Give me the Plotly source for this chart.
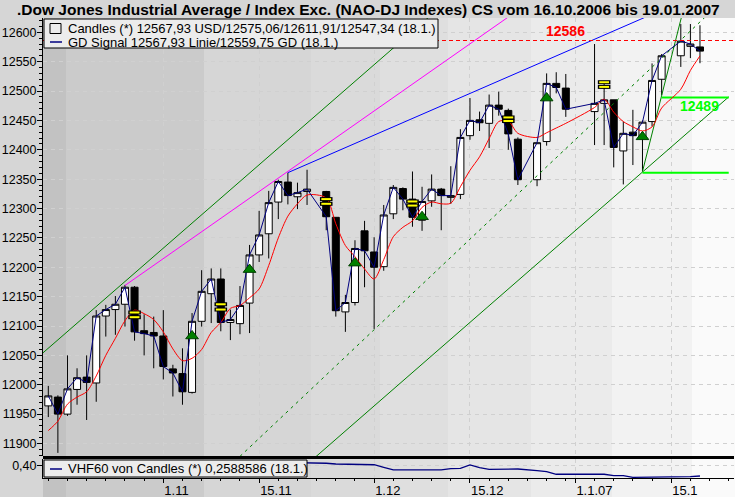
import numpy as np
import plotly.graph_objects as go

# ---------------- data ----------------
dates = ["2006-10-16", "2006-10-17", "2006-10-18", "2006-10-19", "2006-10-20",
         "2006-10-23", "2006-10-24", "2006-10-25", "2006-10-26", "2006-10-27",
         "2006-10-30", "2006-10-31", "2006-11-01", "2006-11-02", "2006-11-03",
         "2006-11-06", "2006-11-07", "2006-11-08", "2006-11-09", "2006-11-10",
         "2006-11-13", "2006-11-14", "2006-11-15", "2006-11-16", "2006-11-17",
         "2006-11-20", "2006-11-21", "2006-11-22", "2006-11-24",
         "2006-11-27", "2006-11-28", "2006-11-29", "2006-11-30", "2006-12-01",
         "2006-12-04", "2006-12-05", "2006-12-06", "2006-12-07", "2006-12-08",
         "2006-12-11", "2006-12-12", "2006-12-13", "2006-12-14", "2006-12-15",
         "2006-12-18", "2006-12-19", "2006-12-20", "2006-12-21", "2006-12-22",
         "2006-12-26", "2006-12-27", "2006-12-28", "2006-12-29",
         "2007-01-03", "2007-01-04", "2007-01-05",
         "2007-01-08", "2007-01-09", "2007-01-10", "2007-01-11", "2007-01-12",
         "2007-01-16", "2007-01-17", "2007-01-18"]

opens = [11964, 11979, 11950, 11992, 12013, 12003, 12117, 12128, 12137, 12166,
         12092, 12089, 12083, 12027, 12019, 11987, 12108, 12155, 12180, 12106,
         12104, 12139, 12221, 12257, 12311, 12345, 12320, 12329, 12329,
         12285, 12124, 12140, 12262, 12226,
         12201, 12291, 12334, 12316, 12280,
         12313, 12333, 12319, 12324, 12424,
         12451, 12445, 12476, 12467, 12418,
         12349, 12414, 12513, 12505,
         12465, 12479, 12485,
         12398, 12430, 12421, 12448, 12520,
         12560, 12576, 12575.06]

highs = [11998, 11982, 12050, 12028, 12050, 12127, 12136, 12151, 12170, 12168,
         12120, 12116, 12127, 12034, 12062, 12122, 12195, 12198, 12198, 12128,
         12168, 12238, 12296, 12330, 12349, 12361, 12344, 12366, 12330,
         12285, 12153, 12246, 12279, 12251,
         12306, 12340, 12336, 12363, 12337,
         12358, 12335, 12372, 12435, 12488,
         12465, 12494, 12499, 12470, 12421,
         12412, 12530, 12532, 12529,
         12580, 12512, 12485,
         12448, 12468, 12450, 12547, 12563,
         12614, 12614, 12611.91]

lows = [11945, 11884, 11947, 11966, 11940, 11971, 12082, 12085, 12099, 12075,
        12050, 12028, 12009, 11980, 11966, 11985, 12099, 12105, 12091, 12076,
        12086, 12088, 12209, 12215, 12282, 12307, 12299, 12306, 12263,
        12116, 12090, 12135, 12166, 12095,
        12194, 12282, 12297, 12269, 12262,
        12303, 12263, 12308, 12316, 12417,
        12432, 12403, 12458, 12400, 12340,
        12338, 12407, 12496, 12456,
        12408, 12408, 12370,
        12341, 12374, 12363, 12440, 12493,
        12541, 12556, 12547.34]

closes = [11981, 11950, 11993, 12012, 12004, 12117, 12128, 12137, 12166, 12090,
          12087, 12083, 12031, 12020, 11988, 12108, 12159, 12180, 12106, 12111,
          12135, 12221, 12255, 12310, 12346, 12322, 12327, 12333, 12286,
          12126, 12140, 12232, 12228, 12200,
          12289, 12336, 12316, 12285, 12312,
          12333, 12322, 12322, 12421, 12450,
          12446, 12476, 12469, 12427, 12349,
          12412, 12513, 12506, 12469,
          12479, 12485, 12404,
          12428, 12424, 12447, 12518, 12560,
          12585, 12580, 12567.93]

# red "GD" line (moving average)
gd_values = [11922, 11938, 11967, 11979, 11988, 12015, 12050, 12079, 12109, 12127,
             12121, 12111, 12090, 12061, 12041, 12045, 12060, 12089, 12106, 12130,
             12135, 12148, 12163, 12203, 12250, 12287, 12308, 12323, 12318,
             12274, 12237, 12218, 12197, 12180,
             12213, 12252, 12268, 12279, 12302,
             12311, 12308, 12309, 12337, 12365,
             12388, 12419, 12448, 12449, 12428,
             12421, 12429, 12437, 12445,
             12472, 12486, 12464,
             12448, 12439, 12432, 12439, 12471,
             12503, 12535, 12559.75]

buy_dates = ["2006-11-06", "2006-11-14", "2006-11-29", "2006-12-08", "2006-12-27", "2007-01-10"]
buy_values = [12083, 12196, 12207, 12286, 12488, 12422]

sell_dates = ["2006-10-27", "2006-11-09", "2006-11-24", "2006-12-07", "2006-12-21", "2007-01-04"]
sell_upper = [12123, 12137, 12316, 12312, 12455, 12515]
sell_lower = [12115, 12128, 12308, 12305, 12449, 12507]

vhf_dates = ["2006-11-16", "2006-11-17", "2006-11-20", "2006-11-21", "2006-11-22", "2006-11-24",
             "2006-11-27", "2006-11-28", "2006-11-29", "2006-11-30", "2006-12-01",
             "2006-12-04", "2006-12-05", "2006-12-06", "2006-12-07", "2006-12-08",
             "2006-12-11", "2006-12-12", "2006-12-13", "2006-12-14", "2006-12-15",
             "2006-12-18", "2006-12-19", "2006-12-20", "2006-12-21", "2006-12-22",
             "2006-12-26", "2006-12-27", "2006-12-28", "2006-12-29",
             "2007-01-03", "2007-01-04", "2007-01-05",
             "2007-01-08", "2007-01-09", "2007-01-10", "2007-01-11", "2007-01-12",
             "2007-01-16", "2007-01-17", "2007-01-18"]
vhf_values = [0.445, 0.443, 0.443, 0.443, 0.443, 0.430,
              0.420, 0.420, 0.416, 0.416, 0.410,
              0.375, 0.340, 0.340, 0.340, 0.340,
              0.340, 0.340, 0.358, 0.362, 0.407,
              0.372, 0.349, 0.353, 0.353, 0.353,
              0.330, 0.317, 0.282, 0.282,
              0.282, 0.282, 0.263,
              0.263, 0.241, 0.241, 0.241, 0.241,
              0.241, 0.250, 0.2588586]

# trend lines (date, value) endpoints
upper_channel_dates = ["2006-10-13", "2006-12-11"]
upper_channel_values = [12048, 12630]
lower_channel_dates = ["2006-11-20", "2007-01-23"]
lower_channel_values = [11836, 12490]
magenta_dates = ["2006-10-26", "2006-12-21"]
magenta_values = [12169, 12626]
blue_trend_dates = ["2006-11-20", "2007-01-16"]
blue_trend_values = [12361, 12652]
steep_dates = ["2007-01-10", "2007-01-17"]
steep_values = [12363, 12686]
dashed_dates = ["2006-11-13", "2007-01-19"]
dashed_values = [11878, 12633]
level_high_dates = ["2007-01-12", "2007-01-23"]
level_high_value = 12489
level_low_dates = ["2007-01-10", "2007-01-23"]
level_low_value = 12361
resistance_value = 12586

tick_dates = ["2006-11-01", "2006-11-15", "2006-12-01", "2006-12-15", "2007-01-01", "2007-01-15"]
tick_labels = ["1.11", "15.11", "1.12", "15.12", "1.1.07", "15.1"]

title_text = ".Dow Jones Industrial Average / Index Exc. (NAO-DJ Indexes) CS vom 16.10.2006 bis 19.01.2007"
legend_candles = "Candles (*) 12567,93 USD/12575,06/12611,91/12547,34 (18.1.)"
legend_signal = "GD Signal 12567,93 Linie/12559,75 GD (18.1.)"
legend_vhf = "VHF60 von Candles (*) 0,2588586 (18.1.)"

# ---------------- helpers ----------------
START = "2006-10-16"


def bidx(ds):
    """weekday position on the time axis (weekends removed)"""
    return np.busday_count(START, np.array(ds, dtype="datetime64[D]")).tolist()


W, H = 735, 497
ML, MR, MT, MB = 43, 1, 18, 19
PW, PH = W - ML - MR, H - MT - MB


def px(x):
    return (x - ML) / PW


def py(y):
    return (H - MB - y) / PH


FONT = "Liberation Sans, Arial, sans-serif"
x = bidx(dates)
tickvals = bidx(tick_dates)
minor_vals = []
allmaj = [-2] + tickvals + [73]
for a, b in zip(allmaj[:-1], allmaj[1:]):
    v = a + 2
    while v < b:
        if v >= 0:
            minor_vals.append(v)
        v += 2

fig = go.Figure()

fig.add_trace(go.Candlestick(
    x=x, open=opens, high=highs, low=lows, close=closes,
    xaxis="x", yaxis="y", whiskerwidth=0,
    increasing=dict(fillcolor="white", line=dict(color="black", width=1)),
    decreasing=dict(fillcolor="black", line=dict(color="black", width=1)),
    hoverinfo="skip", showlegend=False))


def line(ds, vs, color, dash="solid", width=1):
    fig.add_trace(go.Scatter(x=bidx(ds), y=vs, mode="lines", xaxis="x", yaxis="y",
                             line=dict(color=color, width=width, dash=dash),
                             hoverinfo="skip", showlegend=False))


line(upper_channel_dates, upper_channel_values, "#008000")
line(lower_channel_dates, lower_channel_values, "#008000")
line(magenta_dates, magenta_values, "#ff00ff")
line(blue_trend_dates, blue_trend_values, "#0000ff")
line(steep_dates, steep_values, "#008000")
line(dashed_dates, dashed_values, "#008000", dash="3px,4px")
line(level_high_dates, [level_high_value] * 2, "#00ff00", width=2)
line(level_low_dates, [level_low_value] * 2, "#00ff00", width=2)

fig.add_trace(go.Scatter(x=x, y=gd_values, mode="lines", xaxis="x", yaxis="y",
                         line=dict(color="#ff0000", width=1, shape="spline", smoothing=0.8),
                         hoverinfo="skip", showlegend=False))
fig.add_trace(go.Scatter(x=x, y=closes, mode="lines", xaxis="x", yaxis="y",
                         line=dict(color="#000080", width=1),
                         hoverinfo="skip", showlegend=False))

fig.add_trace(go.Scatter(x=bidx(buy_dates), y=buy_values, mode="markers", xaxis="x", yaxis="y",
                         marker=dict(symbol="triangle-up", size=11, color="#008000",
                                     line=dict(color="#004000", width=1)),
                         hoverinfo="skip", showlegend=False))
sx = bidx(sell_dates) * 2
sy = sell_upper + sell_lower
fig.add_trace(go.Scatter(x=sx, y=sy, mode="markers", xaxis="x", yaxis="y",
                         marker=dict(symbol="line-ew", size=9, color="black",
                                     line=dict(color="black", width=4)),
                         hoverinfo="skip", showlegend=False))
fig.add_trace(go.Scatter(x=sx, y=sy, mode="markers", xaxis="x", yaxis="y",
                         marker=dict(symbol="line-ew", size=7, color="#ffff00",
                                     line=dict(color="#ffff00", width=2)),
                         hoverinfo="skip", showlegend=False))

fig.add_trace(go.Scatter(x=bidx(vhf_dates), y=vhf_values, mode="lines", xaxis="x2", yaxis="y2",
                         line=dict(color="#000080", width=1.3),
                         hoverinfo="skip", showlegend=False))

# ---------------- layout ----------------
bands = [(43, 66, "#c2c2c2"), (66, 204, "#cbcbcb"), (204, 311, "#d6d6d6"),
         (311, 380, "#dadada"), (380, 448, "#dfdfdf"), (448, 531, "#e5e5e5"),
         (531, 612, "#ebebeb"), (612, 692, "#f2f2f2"), (692, 735, "#fafafa")]
shapes = []
for x0, x1, c in bands:
    shapes.append(dict(type="rect", xref="paper", yref="paper", x0=px(x0), x1=px(x1),
                       y0=py(H), y1=1, fillcolor=c, line=dict(width=0), layer="below"))

shapes.append(dict(type="line", xref="paper", yref="y", x0=0, x1=1,
                   y0=resistance_value, y1=resistance_value,
                   line=dict(color="#ff0000", width=1, dash="4px,3px"), layer="above"))
# panel separator
shapes.append(dict(type="line", xref="paper", yref="paper", x0=0, x1=1,
                   y0=py(457.5), y1=py(457.5), line=dict(color="black", width=3), layer="above"))
# legend boxes
shapes.append(dict(type="rect", xref="paper", yref="paper", x0=px(44), x1=px(438),
                   y0=py(48), y1=py(19), fillcolor="#ececec",
                   line=dict(color="black", width=1), layer="above"))
shapes.append(dict(type="rect", xref="paper", yref="paper", x0=px(50), x1=px(61),
                   y0=py(33.5), y1=py(23.5), fillcolor="#ececec",
                   line=dict(color="black", width=1), layer="above"))
shapes.append(dict(type="line", xref="paper", yref="paper", x0=px(50), x1=px(62),
                   y0=py(42), y1=py(42), line=dict(color="#000080", width=1.5), layer="above"))
shapes.append(dict(type="rect", xref="paper", yref="paper", x0=px(44), x1=px(307),
                   y0=py(477), y1=py(460), fillcolor="#ececec",
                   line=dict(color="black", width=1), layer="above"))
shapes.append(dict(type="line", xref="paper", yref="paper", x0=px(50), x1=px(62),
                   y0=py(469), y1=py(469), line=dict(color="#000080", width=1.5), layer="above"))

annotations = [
    dict(text=title_text, xref="paper", yref="paper", x=px(15), y=py(9.5),
         xanchor="left", yanchor="middle", showarrow=False,
         font=dict(family=FONT, size=15.5, color="black", weight="bold")),
    dict(text=legend_candles, xref="paper", yref="paper", x=px(66), y=py(28.5),
         xanchor="left", yanchor="middle", showarrow=False, font=dict(family=FONT, size=13)),
    dict(text=legend_signal, xref="paper", yref="paper", x=px(66), y=py(42.5),
         xanchor="left", yanchor="middle", showarrow=False, font=dict(family=FONT, size=13)),
    dict(text=legend_vhf, xref="paper", yref="paper", x=px(66), y=py(468.5),
         xanchor="left", yanchor="middle", showarrow=False, font=dict(family=FONT, size=13)),
    dict(text=str(resistance_value), xref="x", yref="y", x=bidx(["2007-01-02"])[0] - 2, y=12603,
         xanchor="center", yanchor="middle", showarrow=False,
         font=dict(family=FONT, size=14, color="#ff0000", weight="bold")),
    dict(text=str(level_high_value), xref="x", yref="y", x=bidx(["2007-01-18"])[0], y=12474,
         xanchor="center", yanchor="middle", showarrow=False,
         font=dict(family=FONT, size=14, color="#00ff00", weight="bold")),
]

GRID = "#d0d0d0"
xr = [-0.553, 71.55]
fig.update_layout(
    width=W, height=H,
    margin=dict(l=ML, r=MR, t=MT, b=MB, pad=0),
    paper_bgcolor="#d6d6d6", plot_bgcolor="rgba(0,0,0,0)",
    font=dict(family=FONT, size=13, color="black"),
    showlegend=False, hovermode=False,
    boxgap=0.27, boxgroupgap=0,
    shapes=shapes, annotations=annotations,
    xaxis=dict(domain=[0, 1], anchor="y", range=xr, tickvals=tickvals, showticklabels=False,
               ticks="", showgrid=True, gridcolor=GRID, griddash="4px,4px", gridwidth=1,
               zeroline=False, showline=False, automargin=False,
               rangeslider=dict(visible=False)),
    yaxis=dict(domain=[py(456), 1], anchor="x", range=[11878.7, 12624.3], dtick=50, tick0=0,
               tickformat="d", ticks="outside", ticklen=5, tickcolor="black",
               tickfont=dict(size=12.5), ticklabelstandoff=-2,
               showline=True, linecolor="black", linewidth=1, automargin=False,
               showgrid=True, gridcolor=GRID, griddash="4px,4px", zeroline=False,
               minor=dict(dtick=10, tick0=0, ticks="outside", ticklen=3, tickcolor="black",
                          showgrid=False)),
    xaxis2=dict(domain=[0, 1], anchor="y2", range=xr, matches="x", tickvals=tickvals,
                ticktext=tick_labels, ticks="outside", ticklen=4, tickcolor="black",
                ticklabelposition="outside right", automargin=False,
                showline=True, linecolor="black", linewidth=1,
                showgrid=True, gridcolor=GRID, griddash="4px,4px", zeroline=False,
                minor=dict(tickvals=minor_vals, ticks="outside", ticklen=2, tickcolor="black",
                           showgrid=False)),
    yaxis2=dict(domain=[0, py(459)], anchor="x2", range=[0.232, 0.487], tickvals=[0.4],
                ticktext=["0,40"], ticks="outside", ticklen=5, tickcolor="black",
                tickfont=dict(size=12.5), ticklabelstandoff=-2,
                showline=True, linecolor="black", linewidth=1, automargin=False,
                showgrid=True, gridcolor=GRID, griddash="4px,4px", zeroline=False),
)

fig.write_html("out.html", config={"displayModeBar": False},
               post_script="document.body.style.margin='0px';")
